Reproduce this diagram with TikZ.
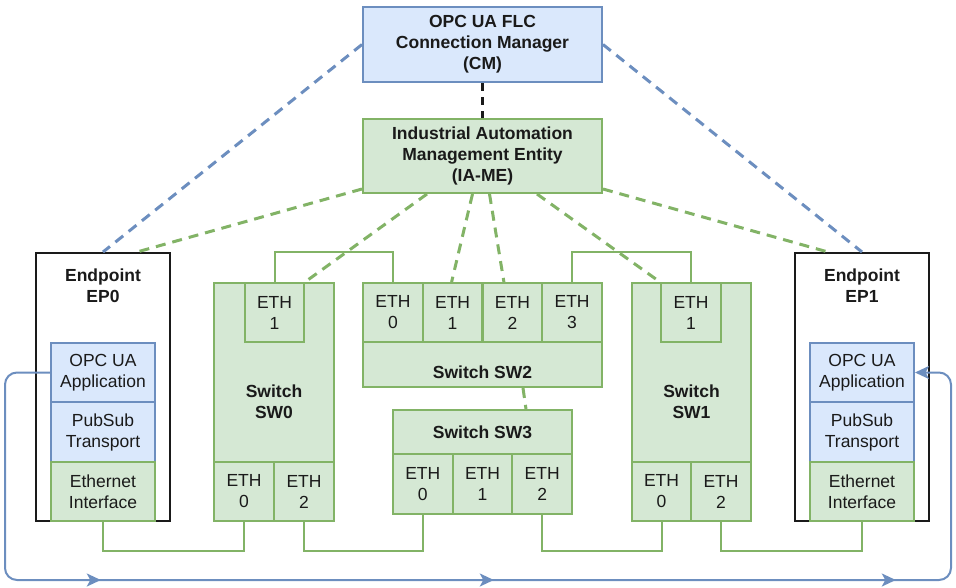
\documentclass[tikz,border=0pt]{standalone}
\usepackage{fontspec}
\setmainfont{Liberation Sans}
\usetikzlibrary{calc,arrows.meta,decorations.markings}
\definecolor{bfill}{HTML}{DAE8FC}
\definecolor{bline}{HTML}{6C8EBF}
\definecolor{gfill}{HTML}{D5E8D4}
\definecolor{gline}{HTML}{82B366}
\definecolor{ink}{HTML}{1A1A1A}
\tikzset{flowtip/.tip={Stealth[length=14pt,width=13pt,inset=3.5pt]}}
\begin{document}
\begin{tikzpicture}[x=1pt,y=-1pt,
  every node/.style={font=\fontsize{17.5}{21}\selectfont, text=ink, align=center, inner sep=0pt},
  bbox/.style={draw=bline, fill=bfill, line width=2pt},
  gbox/.style={draw=gline, fill=gfill, line width=2pt},
  kbox/.style={draw=ink, line width=2pt},
  sz/.style 2 args={minimum width=#1pt, minimum height=#2pt},
  lbl/.style={font=\bfseries\fontsize{17.5}{21}\selectfont},
  gdash/.style={draw=gline, line width=3pt, dash pattern=on 10pt off 7pt},
  bdash/.style={draw=bline, line width=3pt, dash pattern=on 10pt off 7pt},
  kdash/.style={draw=ink, line width=3pt, dash pattern=on 8pt off 6pt},
  link/.style={draw=gline, line width=2pt}
]
\useasboundingbox (0,0) rectangle (956,587);

% top boxes
\node[bbox,lbl,sz={239}{75}] (cm) at (482.5,44.5) {OPC UA FLC\\Connection Manager\\(CM)};
\node[gbox,lbl,sz={239}{74}] (iame) at (482.5,156) {Industrial Automation\\Management Entity\\(IA-ME)};

% Endpoint EP0
\node[kbox,sz={134}{268}] (ep0) at (103,387) {};
\node[lbl] (ep0t) at (103,286) {Endpoint\\EP0};
\node[bbox,sz={104}{59}] (ep0app) at (103,372.5) {OPC UA\\Application};
\node[bbox,sz={104}{60}] (ep0ps) at (103,432) {PubSub\\Transport};
\node[gbox,sz={104}{59}] (ep0eth) at (103,491.5) {Ethernet\\Interface};

% Endpoint EP1
\node[kbox,sz={134}{268}] (ep1) at (862,387) {};
\node[lbl] (ep1t) at (862,286) {Endpoint\\EP1};
\node[bbox,sz={104}{59}] (ep1app) at (862,372.5) {OPC UA\\Application};
\node[bbox,sz={104}{60}] (ep1ps) at (862,432) {PubSub\\Transport};
\node[gbox,sz={104}{59}] (ep1eth) at (862,491.5) {Ethernet\\Interface};

% Switch SW0
\node[gbox,sz={120}{238}] (sw0) at (274,402) {};
\node[lbl] (sw0t) at (274,402) {Switch\\SW0};
\node[gbox,sz={59}{59}] (sw0e1) at (274.5,312.5) {ETH\\1};
\node[gbox,sz={60}{59}] (sw0e0) at (244,491.5) {ETH\\0};
\node[gbox,sz={60}{59}] (sw0e2) at (304,491.5) {ETH\\2};

% Switch SW1
\node[gbox,sz={119}{238}] (sw1) at (691.5,402) {};
\node[lbl] (sw1t) at (691.5,402) {Switch\\SW1};
\node[gbox,sz={60}{59}] (sw1e1) at (691,312.5) {ETH\\1};
\node[gbox,sz={59}{59}] (sw1e0) at (661.5,491.5) {ETH\\0};
\node[gbox,sz={60}{59}] (sw1e2) at (721,491.5) {ETH\\2};

% Switch SW2
\node[gbox,sz={239}{104}] (sw2) at (482.5,335) {};
\node[lbl] (sw2t) at (482.5,372) {Switch SW2};
\node[gbox,sz={59.75}{59}] (sw2e0) at (392.9,312.5) {ETH\\0};
\node[gbox,sz={59.75}{59}] (sw2e1) at (452.6,312.5) {ETH\\1};
\node[gbox,sz={59.75}{59}] (sw2e2) at (512.4,312.5) {ETH\\2};
\node[gbox,sz={59.75}{59}] (sw2e3) at (572.1,312.5) {ETH\\3};

% Switch SW3
\node[gbox,sz={179}{104}] (sw3) at (482.5,462) {};
\node[lbl] (sw3t) at (482.5,432) {Switch SW3};
\node[gbox,sz={59.67}{60}] (sw3e0) at (422.8,484) {ETH\\0};
\node[gbox,sz={59.67}{60}] (sw3e1) at (482.5,484) {ETH\\1};
\node[gbox,sz={59.67}{60}] (sw3e2) at (542.2,484) {ETH\\2};

% management connections
\draw[kdash] (cm.south) -- (iame.north);
\draw[bdash] (cm.west) -- (ep0.north);
\draw[bdash] (cm.east) -- (ep1.north);
\draw[gdash] ($(iame.south west)+(0,-5)$) -- ($(ep0.north)+(34,0)$);
\draw[gdash] ($(iame.south west)+(65,0)$) -- (sw0e1.north east);
\draw[gdash] ($(iame.south)+(-10,0)$) -- ($(sw2e1.north)+(-1,0)$);
\draw[gdash] ($(iame.south)+(7,0)$) -- ($(sw2e2.north)+(-8.5,0)$);
\draw[gdash] ($(iame.south)+(54.5,0)$) -- (sw1e1.north west);
\draw[gdash] ($(iame.south east)+(0,-5)$) -- ($(ep1.north)+(-34,0)$);
\draw[gdash] ($(sw2.south)+(40.5,0)$) -- ($(sw3.north)+(43.5,0)$);

% ethernet links
\draw[link] (ep0eth.south) -- ++(0,29) -| (sw0e0.south);
\draw[link] (sw0e2.south) -- ++(0,29) -| (sw3e0.south);
\draw[link] (sw3e2.south) -- ++(0,36) -| (sw1e0.south);
\draw[link] (sw1e2.south) -- ++(0,29) -| (ep1eth.south);
\draw[link] (sw0e1.north) -- ++(0,-30) -| (sw2e0.north);
\draw[link] (sw2e3.north) -- ++(0,-30) -| (sw1e1.north);

% data flow
\draw[bline, line width=2pt, rounded corners=12pt, -{flowtip},
  postaction={decorate},
  decoration={markings,
    mark=at position 338pt with {\arrow{flowtip}},
    mark=at position 731pt with {\arrow{flowtip}},
    mark=at position 1133pt with {\arrow{flowtip}}}]
  (ep0app.west) -| (5,580) -| (951,372.5) -- (ep1app.east);
\end{tikzpicture}
\end{document}
